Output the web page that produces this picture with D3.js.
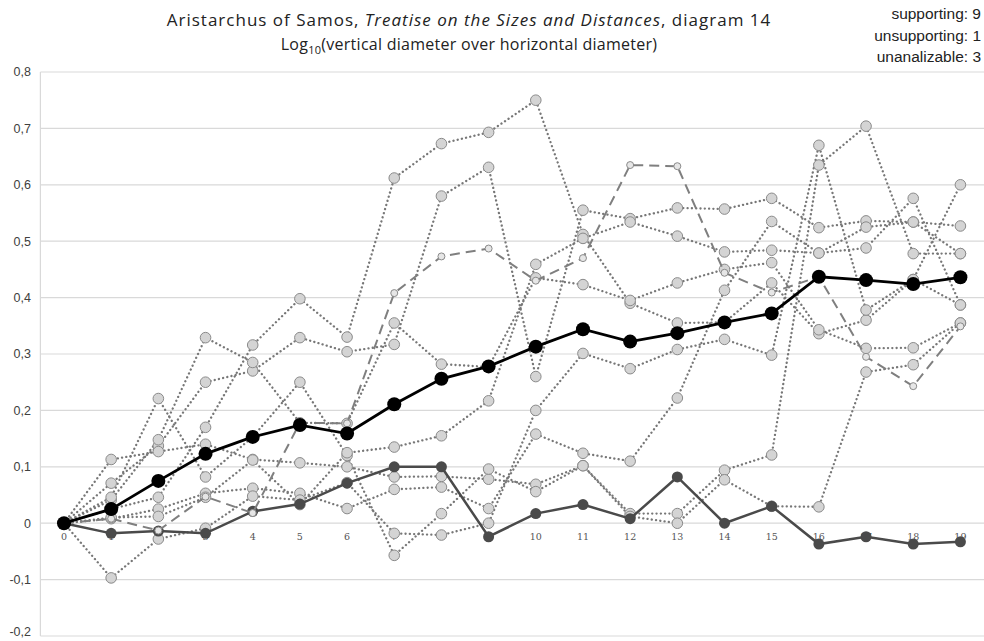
<!DOCTYPE html>
<html>
<head>
<meta charset="utf-8">
<script src="https://cdn.jsdelivr.net/npm/d3@7"></script>
<style>
  html, body { margin: 0; padding: 0; background: #fff; }
  svg { display: block; }
</style>
</head>
<body>
<svg id="chart" width="984" height="641"></svg>
<script>
// Positions along the sequence of figures
const categories = d3.range(0, 20).map(String);

// y axis ticks and their printed labels (decimal comma)
const yTickValues = [-0.2, -0.1, 0, 0.1, 0.2, 0.3, 0.4, 0.5, 0.6, 0.7, 0.8];
const yTickLabels = ["-0,2", "-0,1", "0", "0,1", "0,2", "0,3", "0,4", "0,5", "0,6", "0,7", "0,8"];

// Individual supporting series (dotted)
const supportA = [0, 0.025, 0.046, 0.17, 0.316, 0.398, 0.33, 0.612, 0.673, 0.693, 0.75, 0.512, 0.39, 0.355, 0.356, 0.426, 0.336, 0.36, 0.432, 0.387];
const supportB = [0, 0.071, 0.137, 0.25, 0.27, 0.329, 0.304, 0.317, 0.58, 0.631, 0.26, 0.555, 0.54, 0.559, 0.557, 0.576, 0.524, 0.536, 0.534, 0.527];
const supportC = [0, 0.041, 0.148, 0.329, 0.285, 0.178, 0.177, 0.355, 0.282, 0.277, 0.435, 0.423, 0.395, 0.426, 0.45, 0.462, 0.343, 0.31, 0.311, 0.355];
const supportD = [0, 0.113, 0.127, 0.14, 0.113, 0.107, 0.1, 0.082, 0.083, 0.078, 0.069, 0.102, 0.017, 0.017, 0.094, 0.121, 0.635, 0.704, 0.478, 0.478];
const supportE = [0, 0.008, 0.025, 0.053, 0.062, 0.053, 0.026, 0.06, 0.064, 0.026, 0.158, 0.124, 0.11, 0.222, 0.413, 0.535, 0.479, 0.525, 0.534, 0.478];
const supportF = [0, -0.097, -0.028, -0.009, 0.048, 0.041, 0.072, -0.018, -0.021, 0, 0.2, 0.301, 0.274, 0.308, 0.326, 0.298, 0.67, 0.378, 0.432, 0.6];
const supportG = [0, 0.046, 0.221, 0.082, 0.153, 0.25, 0.12, -0.057, 0.017, 0.096, 0.056, 0.102, 0.012, 0, 0.077, 0.03, 0.029, 0.268, 0.281, 0.355];
const supportH = [0, 0.01, 0.012, 0.046, 0.112, 0.033, 0.125, 0.135, 0.155, 0.217, 0.459, 0.505, 0.534, 0.509, 0.481, 0.484, 0.479, 0.488, 0.576, 0.387];

// Dashed series
const dashedSeries = [0, 0.008, -0.013, 0.047, 0.018, 0.178, 0.177, 0.408, 0.473, 0.487, 0.43, 0.47, 0.635, 0.633, 0.444, 0.409, 0.437, 0.295, 0.243, 0.349];

// Unsupporting series (dark solid)
const unsupporting = [0, -0.018, -0.014, -0.018, 0.021, 0.034, 0.071, 0.1, 0.1, -0.024, 0.017, 0.033, 0.008, 0.082, 0, 0.03, -0.037, -0.024, -0.037, -0.033];

// Mean of the supporting series (bold black)
const supportingMean = [0, 0.025, 0.075, 0.123, 0.153, 0.174, 0.159, 0.211, 0.256, 0.278, 0.313, 0.344, 0.322, 0.337, 0.356, 0.372, 0.437, 0.431, 0.424, 0.436];

const legendLines = ["supporting: 9", "unsupporting: 1", "unanalizable: 3"];

const dottedSeries = [supportA, supportB, supportC, supportD, supportE, supportF, supportG, supportH];

const svg = d3.select("#chart");
const W = 984, H = 641;
const plot = { left: 40.4, right: 984, top: 72, bottom: 636 };

const x = d3.scalePoint().domain(categories).range([plot.left, plot.right]).padding(0.5);
const y = d3.scaleLinear().domain([-0.2, 0.8]).range([plot.bottom, plot.top]);

// Horizontal gridlines
svg.append("g")
  .selectAll("line")
  .data(yTickValues)
  .join("line")
  .attr("x1", plot.left).attr("x2", W)
  .attr("y1", d => y(d)).attr("y2", d => y(d))
  .attr("stroke", "#d9d9d9").attr("stroke-width", 1.2);

// Vertical axis line
svg.append("line")
  .attr("x1", plot.left).attr("x2", plot.left)
  .attr("y1", plot.top).attr("y2", plot.bottom)
  .attr("stroke", "#d9d9d9").attr("stroke-width", 1.2);

// Y tick labels (the lowest one is kept inside the page)
svg.append("g")
  .selectAll("text")
  .data(yTickValues)
  .join("text")
  .attr("x", 31)
  .attr("y", d => Math.min(y(d) + 4.3, H - 5))
  .attr("text-anchor", "end")
  .attr("font-family", "Liberation Sans, Arial, sans-serif")
  .attr("font-size", 12.5)
  .attr("fill", "#404040")
  .text((d, i) => yTickLabels[i]);

// X tick labels, just below the zero line
svg.append("g")
  .selectAll("text")
  .data(categories)
  .join("text")
  .attr("x", d => x(d))
  .attr("y", y(0) + 17)
  .attr("text-anchor", "middle")
  .attr("font-family", "DejaVu Serif, serif")
  .attr("font-size", 9.5)
  .attr("fill", "#555")
  .text(d => d);

const line = d3.line().x((d, i) => x(categories[i])).y(d => y(d));

// Dotted supporting series
const dotted = svg.append("g");
dottedSeries.forEach(s => {
  dotted.append("path")
    .attr("d", line(s))
    .attr("fill", "none")
    .attr("stroke", "#777")
    .attr("stroke-width", 2.3)
    .attr("stroke-dasharray", "0.1 4.2")
    .attr("stroke-linecap", "round");
});
dottedSeries.forEach(s => {
  dotted.append("g")
    .selectAll("circle")
    .data(s)
    .join("circle")
    .attr("cx", (d, i) => x(categories[i]))
    .attr("cy", d => y(d))
    .attr("r", 5.3)
    .attr("fill", "#d4d4d4")
    .attr("stroke", "#8a8a8a")
    .attr("stroke-width", 1);
});

// Unsupporting series
svg.append("path")
  .attr("d", line(unsupporting))
  .attr("fill", "none")
  .attr("stroke", "#4a4a4a")
  .attr("stroke-width", 2.5);
svg.append("g")
  .selectAll("circle")
  .data(unsupporting)
  .join("circle")
  .attr("cx", (d, i) => x(categories[i]))
  .attr("cy", d => y(d))
  .attr("r", 5.5)
  .attr("fill", "#4a4a4a");

// Dashed series
svg.append("path")
  .attr("d", line(dashedSeries))
  .attr("fill", "none")
  .attr("stroke", "#7f7f7f")
  .attr("stroke-width", 2)
  .attr("stroke-dasharray", "10 6");
svg.append("g")
  .selectAll("circle")
  .data(dashedSeries)
  .join("circle")
  .attr("cx", (d, i) => x(categories[i]))
  .attr("cy", d => y(d))
  .attr("r", 3.5)
  .attr("fill", "#e6e6e6")
  .attr("stroke", "#8a8a8a")
  .attr("stroke-width", 1);

// Mean of supporting series
svg.append("path")
  .attr("d", line(supportingMean))
  .attr("fill", "none")
  .attr("stroke", "#000")
  .attr("stroke-width", 2.8);
svg.append("g")
  .selectAll("circle")
  .data(supportingMean)
  .join("circle")
  .attr("cx", (d, i) => x(categories[i]))
  .attr("cy", d => y(d))
  .attr("r", 7)
  .attr("fill", "#000");

// Title
const title = svg.append("g")
  .attr("font-family", "Open Sans, sans-serif")
  .attr("fill", "#222")
  .attr("text-anchor", "middle");
const t1 = title.append("text").attr("x", 469).attr("y", 26)
  .attr("font-size", 17).attr("letter-spacing", 1.0);
t1.append("tspan").text("Aristarchus of Samos, ");
t1.append("tspan").attr("font-style", "italic").text("Treatise on the Sizes and Distances");
t1.append("tspan").text(", diagram 14");
const t2 = title.append("text").attr("x", 469).attr("y", 50)
  .attr("font-size", 16).attr("letter-spacing", 0.27);
t2.append("tspan").text("Log");
t2.append("tspan").attr("font-size", 11).attr("dy", 4).text("10");
t2.append("tspan").attr("dy", -4).text("(vertical diameter over horizontal diameter)");

// Counts in the top right corner
svg.append("g")
  .selectAll("text")
  .data(legendLines)
  .join("text")
  .attr("x", 981)
  .attr("y", (d, i) => 19 + i * 21.5)
  .attr("text-anchor", "end")
  .attr("font-family", "Liberation Sans, Arial, sans-serif")
  .attr("font-size", 15.5)
  .attr("fill", "#222")
  .text(d => d);
</script>
</body>
</html>
